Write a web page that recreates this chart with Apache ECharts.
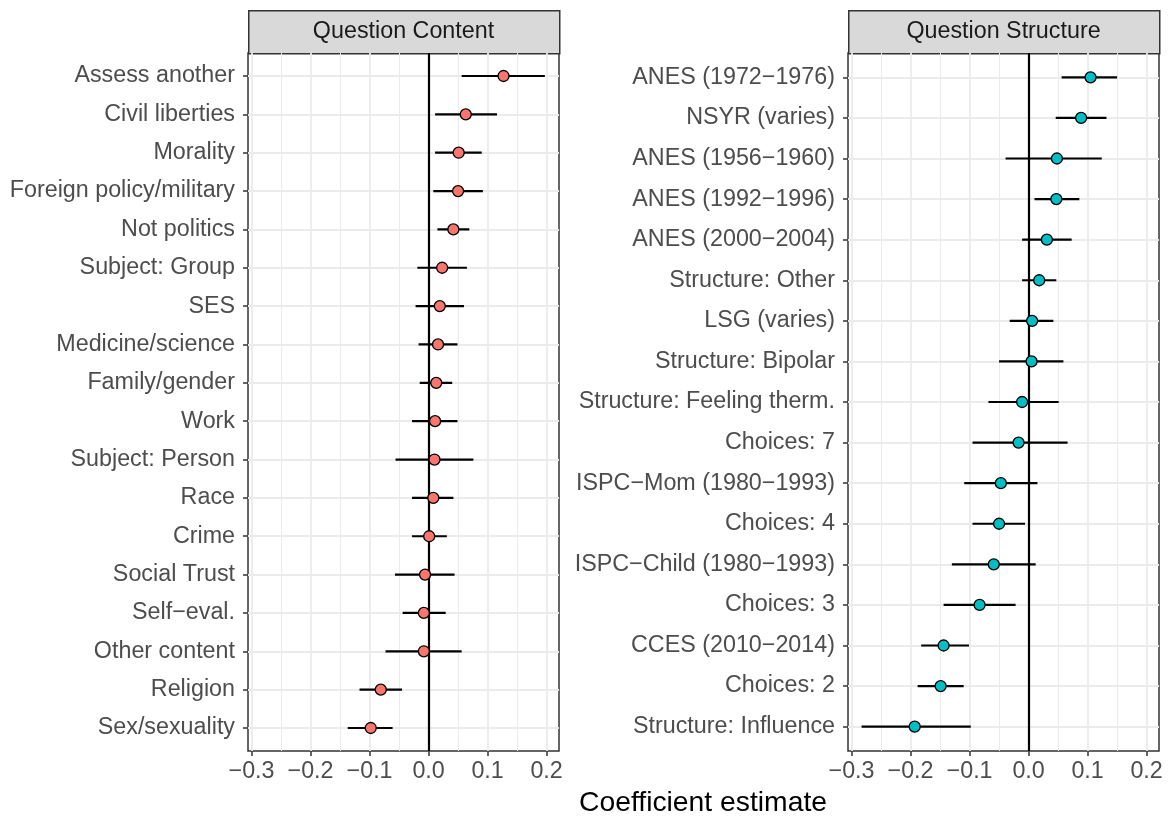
<!DOCTYPE html>
<html>
<head>
<meta charset="utf-8">
<script src="https://cdn.jsdelivr.net/npm/echarts@6/dist/echarts.min.js"></script>
<style>
  html, body { margin: 0; padding: 0; background: #fff; }
  #coefplot { width: 1174px; height: 819px; }
</style>
</head>
<body>
<!-- coefficient plot, two facets -->
<div id="coefplot"></div>
<script>
const contentCats = ['Assess another', 'Civil liberties', 'Morality', 'Foreign policy/military', 'Not politics',
  'Subject: Group', 'SES', 'Medicine/science', 'Family/gender', 'Work', 'Subject: Person', 'Race', 'Crime',
  'Social Trust', 'Self\u2212eval.', 'Other content', 'Religion', 'Sex/sexuality']
const contentEst = [0.127, 0.063, 0.051, 0.050, 0.042, 0.023, 0.019, 0.016, 0.013, 0.011, 0.010, 0.008, 0.001,
  -0.006, -0.008, -0.008, -0.081, -0.098]
const contentLo = [0.056, 0.011, 0.011, 0.008, 0.015, -0.019, -0.022, -0.017, -0.015, -0.028, -0.056, -0.028, -0.028,
  -0.057, -0.044, -0.073, -0.117, -0.137]
const contentHi = [0.197, 0.116, 0.090, 0.092, 0.069, 0.065, 0.060, 0.049, 0.040, 0.049, 0.076, 0.042, 0.031,
  0.044, 0.029, 0.056, -0.045, -0.061]

const structureCats = ['ANES (1972\u22121976)', 'NSYR (varies)', 'ANES (1956\u22121960)', 'ANES (1992\u22121996)',
  'ANES (2000\u22122004)', 'Structure: Other', 'LSG (varies)', 'Structure: Bipolar', 'Structure: Feeling therm.',
  'Choices: 7', 'ISPC\u2212Mom (1980\u22121993)', 'Choices: 4', 'ISPC\u2212Child (1980\u22121993)', 'Choices: 3',
  'CCES (2010\u22122014)', 'Choices: 2', 'Structure: Influence']
const structureEst = [0.105, 0.089, 0.048, 0.047, 0.031, 0.018, 0.006, 0.005, -0.011, -0.017, -0.047, -0.050,
  -0.059, -0.083, -0.144, -0.149, -0.193]
const structureLo = [0.056, 0.046, -0.039, 0.010, -0.011, -0.011, -0.032, -0.050, -0.068, -0.095, -0.109, -0.095,
  -0.130, -0.144, -0.182, -0.188, -0.283]
const structureHi = [0.150, 0.132, 0.124, 0.086, 0.073, 0.047, 0.042, 0.059, 0.051, 0.066, 0.015, -0.006,
  0.012, -0.022, -0.101, -0.110, -0.098]

const xTicks = [-0.3, -0.2, -0.1, 0, 0.1, 0.2]
const xMinor = [-0.25, -0.15, -0.05, 0.05, 0.15]
const panelTitles = ['Question Content', 'Question Structure']

const font = '"Liberation Sans", Arial, Helvetica, sans-serif'
const fillColors = ['#F8766D', '#00BFC4']
const panelLeft = [248, 848]
const panelTop = 53
const panelW = 311
const panelH = 698
const textSize = 23.3

const chart = echarts.init(document.getElementById('coefplot'))

const panels = [
  { cats: contentCats, est: contentEst, lo: contentLo, hi: contentHi },
  { cats: structureCats, est: structureEst, lo: structureLo, hi: structureHi }
]

const grid = []
const xAxis = []
const yAxis = []
const series = []
const graphic = []

const fmtNum = v => v.toFixed(1).replace('-', '\u2212')

panels.forEach((p, i) => {
  const idx = p.cats.map((c, k) => k)
  grid.push({
    left: panelLeft[i], top: panelTop, width: panelW, height: panelH,
    show: true, borderColor: '#333333', borderWidth: 1.5, backgroundColor: '#fff'
  })
  xAxis.push({
    type: 'value', gridIndex: i, position: 'bottom', min: -0.306, max: 0.221,
    axisLine: { show: false, onZero: false },
    axisTick: { show: true, length: 5, customValues: xTicks, lineStyle: { color: '#333333', width: 1.5 } },
    axisLabel: {
      customValues: xTicks, formatter: fmtNum, color: '#4D4D4D', fontSize: textSize, fontFamily: font, margin: 9
    },
    splitLine: { show: true, lineStyle: { color: '#EBEBEB', width: 1.8 } }
  })
  yAxis.push({
    type: 'value', gridIndex: i, position: 'left', inverse: true, min: -0.6, max: p.cats.length - 0.4,
    axisLine: { show: false, onZero: false },
    axisTick: { show: true, length: 5, customValues: idx, lineStyle: { color: '#333333', width: 1.5 } },
    axisLabel: {
      customValues: idx, formatter: v => p.cats[Math.round(v)], color: '#4D4D4D',
      fontSize: textSize, fontFamily: font, margin: 13
    },
    splitLine: { show: true, lineStyle: { color: '#EBEBEB', width: 1.8 } }
  })

  // minor vertical grid lines
  series.push({
    type: 'line', xAxisIndex: i, yAxisIndex: i, data: [], z: 1, silent: true,
    markLine: {
      silent: true, symbol: 'none', label: { show: false }, z: 1,
      lineStyle: { color: '#EBEBEB', width: 1, type: 'solid' },
      data: xMinor.map(v => ({ xAxis: v }))
    }
  })

  // error bars + zero line
  series.push({
    type: 'custom', xAxisIndex: i, yAxisIndex: i, z: 2, silent: true,
    data: idx.map(k => [p.lo[k], p.hi[k], k]),
    encode: { x: [0, 1], y: 2 },
    renderItem: (params, api) => {
      const a = api.coord([api.value(0), api.value(2)])
      const b = api.coord([api.value(1), api.value(2)])
      return {
        type: 'line',
        shape: { x1: a[0], y1: a[1], x2: b[0], y2: b[1] },
        style: { stroke: '#000', lineWidth: 2.2 }
      }
    },
    markLine: {
      silent: true, symbol: 'none', label: { show: false }, z: 2,
      lineStyle: { color: '#000', width: 2.2, type: 'solid' },
      data: [{ xAxis: 0 }]
    }
  })

  // point estimates
  series.push({
    type: 'scatter', xAxisIndex: i, yAxisIndex: i, z: 3, silent: true,
    symbol: 'circle', symbolSize: 11,
    itemStyle: { color: fillColors[i], borderColor: '#000', borderWidth: 1.3, opacity: 1 },
    data: idx.map(k => [p.est[k], k])
  })

  // facet strip
  graphic.push({
    type: 'rect', left: panelLeft[i], top: 10,
    shape: { width: panelW, height: panelTop - 10 },
    style: { fill: '#D9D9D9', stroke: '#333333', lineWidth: 1.5 }
  })
  graphic.push({
    type: 'text', x: panelLeft[i] + panelW / 2, y: 32,
    style: {
      text: panelTitles[i], fill: '#1A1A1A', font: textSize + 'px ' + font,
      textAlign: 'center', textVerticalAlign: 'middle'
    }
  })
})

graphic.push({
  type: 'text', x: 703, y: 803,
  style: {
    text: 'Coefficient estimate', fill: '#000', font: '28.3px ' + font,
    textAlign: 'center', textVerticalAlign: 'middle'
  }
})

const option = {
  backgroundColor: '#fff',
  animation: false,
  grid,
  xAxis,
  yAxis,
  series,
  graphic
}
chart.setOption(option)
window.onresize = () => {
  chart.resize()
}
</script>
</body>
</html>
